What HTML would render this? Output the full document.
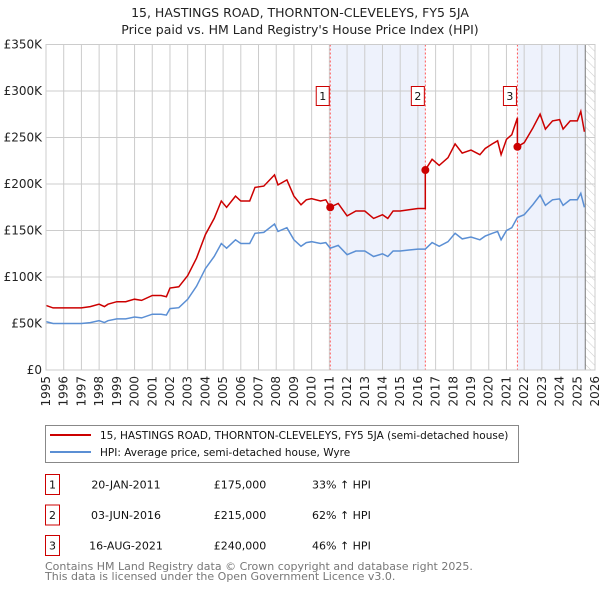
<!DOCTYPE html>
<html><head><meta charset="utf-8"><style>
body{margin:0;background:#fff;}
svg text{font-family:"DejaVu Sans","Liberation Sans",sans-serif;}
</style></head><body>
<svg id="chart" width="600" height="590" viewBox="0 0 600 590" xmlns="http://www.w3.org/2000/svg">
<defs><pattern id="hatch" width="6" height="6" patternUnits="userSpaceOnUse" patternTransform="rotate(-45)"><line x1="0" y1="0" x2="0" y2="6" stroke="#ccc" stroke-width="1"/></pattern></defs>
<text x="300" y="17" text-anchor="middle" font-size="12.5" fill="#222">15, HASTINGS ROAD, THORNTON-CLEVELEYS, FY5 5JA</text>
<text x="300" y="34" text-anchor="middle" font-size="12.5" fill="#222">Price paid vs. HM Land Registry's House Price Index (HPI)</text>
<g id="plot"></g>
<rect x="45.5" y="425.5" width="473" height="37" fill="#fff" stroke="#888"/>
<line x1="50" y1="435" x2="91" y2="435" stroke="#cc0000" stroke-width="2"/>
<text x="100" y="439" font-size="10.5" fill="#111">15, HASTINGS ROAD, THORNTON-CLEVELEYS, FY5 5JA (semi-detached house)</text>
<line x1="50" y1="452" x2="91" y2="452" stroke="#5b8fd4" stroke-width="2"/>
<text x="100" y="456" font-size="10.5" fill="#111">HPI: Average price, semi-detached house, Wyre</text>
<g id="table" font-size="11" fill="#111"></g>
<text x="45" y="570" font-size="11" fill="#777">Contains HM Land Registry data © Crown copyright and database right 2025.</text>
<text x="45" y="580" font-size="11" fill="#777">This data is licensed under the Open Government Licence v3.0.</text>
</svg>
<script>
const hpiYears=[1995,1995.4,1996,1996.5,1997,1997.5,1998,1998.3,1998.5,1999,1999.5,2000,2000.4,2001,2001.5,2001.8,2002,2002.5,2003,2003.5,2004,2004.5,2004.9,2005.2,2005.7,2006,2006.5,2006.8,2007.3,2007.9,2008.1,2008.6,2009,2009.4,2009.7,2010,2010.5,2010.8,2011.05,2011.5,2012,2012.5,2013,2013.5,2014,2014.3,2014.6,2015,2015.5,2016,2016.42,2016.8,2017.2,2017.7,2018.1,2018.5,2019,2019.5,2019.8,2020.2,2020.5,2020.7,2021,2021.3,2021.62,2022,2022.5,2022.9,2023.2,2023.6,2024,2024.2,2024.6,2025,2025.2,2025.4];
const hpiValues=[52,50,50,50,50,51,53,51,53,55,55,57,56,60,60,59,66,67,76,90,109,122,136,131,140,136,136,147,148,157,149,153,140,133,137,138,136,137,131,134,124,128,128,122,125,122,128,128,129,130,130,137,133,138,147,141,143,140,144,147,149,140,150,153,164,167,178,188,177,183,184,177,183,183,190,175];
const saleYears=[2011.05,2016.42,2021.62];
const salePrices=[175,215,240];
const saleLabels=["1","2","3"];
const saleDates=["20-JAN-2011","03-JUN-2016","16-AUG-2021"];
const salePriceText=["£175,000","£215,000","£240,000"];
const saleDiffs=["33% ↑ HPI","62% ↑ HPI","46% ↑ HPI"];
const yTicks=[0,50,100,150,200,250,300,350];
const yTickLabels=["£0","£50K","£100K","£150K","£200K","£250K","£300K","£350K"];
const xTicks=[1995,1996,1997,1998,1999,2000,2001,2002,2003,2004,2005,2006,2007,2008,2009,2010,2011,2012,2013,2014,2015,2016,2017,2018,2019,2020,2021,2022,2023,2024,2025,2026];

const NS="http://www.w3.org/2000/svg";
const L=46,R=595,T=44.5,B=370;
const X=y=>L+(y-1995)/31*(R-L);
const Y=v=>B-v/350*(B-T);
function mk(tag,attrs,parent){const e=document.createElementNS(NS,tag);for(const k in attrs)e.setAttribute(k,attrs[k]);parent.appendChild(e);return e;}
const g=document.getElementById('plot');
const endYear=2025.45;
let s1=mk('rect',{x:X(saleYears[0]),y:T,width:X(saleYears[1])-X(saleYears[0]),height:B-T,fill:'#eef2fc'},g);


let s2=mk('rect',{x:X(saleYears[2]),y:T,width:X(endYear)-X(saleYears[2]),height:B-T,fill:'#eef2fc'},g);


let ht=mk('rect',{x:X(endYear),y:T,width:R-X(endYear),height:B-T,fill:'url(#hatch)'},g);


xTicks.forEach(t=>{let l=mk('line',{x1:X(t),x2:X(t),y1:T,y2:B,stroke:'#ccc','stroke-width':1},g);


let tx=mk('text',{x:0,y:0,'font-size':12,fill:'#222','text-anchor':'end',transform:`translate(${X(t)+4},${B+6}) rotate(-90)`},g);tx.textContent=t;

});
yTicks.forEach((t,i)=>{let l=mk('line',{x1:L,x2:R,y1:Y(t),y2:Y(t),stroke:'#ccc','stroke-width':1},g);


let tx=mk('text',{x:L-4,y:Y(t)+4,'font-size':12,fill:'#222','text-anchor':'end'},g);tx.textContent=yTickLabels[i];

});
let vl=mk('line',{x1:X(endYear),x2:X(endYear),y1:T,y2:B,stroke:'#777','stroke-width':1},g);


saleYears.forEach((sy,i)=>{let l=mk('line',{x1:X(sy),x2:X(sy),y1:T,y2:B,stroke:'#ff5555','stroke-width':1,'stroke-dasharray':'2,2'},g);


let bx=mk('rect',{x:X(sy)-14,y:86.5,width:13,height:19,fill:'#fff',stroke:'#cc0000'},g);


let tx=mk('text',{x:X(sy)-7.5,y:100,'font-size':11,fill:'#111','text-anchor':'middle'},g);tx.textContent=saleLabels[i];

});
function interp(y){for(let i=0;i<hpiYears.length-1;i++){if(y<=hpiYears[i+1]){const f=(y-hpiYears[i])/(hpiYears[i+1]-hpiYears[i]);return hpiValues[i]+f*(hpiValues[i+1]-hpiValues[i]);}}return hpiValues[hpiValues.length-1];}
let hp=hpiYears.map((y,i)=>X(y).toFixed(1)+','+Y(hpiValues[i]).toFixed(1)).join(' ');
let hl=mk('polyline',{points:hp,fill:'none',stroke:'#5b8fd4','stroke-width':1.5},g);


function factor(y){let k=0;for(let i=0;i<saleYears.length;i++)if(y>=saleYears[i])k=i;return salePrices[k]/interp(saleYears[k]);}
let pts=[];
hpiYears.forEach((y,i)=>{saleYears.forEach((sy,j)=>{if(j>0&&sy>(hpiYears[i-1]||0)&&sy<=y){pts.push([sy,interp(sy)*salePrices[j-1]/interp(saleYears[j-1])]);pts.push([sy,salePrices[j]]);}});pts.push([y,hpiValues[i]*factor(y)]);});
let pl=mk('polyline',{points:pts.map(p=>X(p[0]).toFixed(1)+','+Y(p[1]).toFixed(1)).join(' '),fill:'none',stroke:'#cc0000','stroke-width':1.5},g);


saleYears.forEach((sy,i)=>{let c=mk('circle',{cx:X(sy),cy:Y(salePrices[i]),r:4,fill:'#cc0000'},g);

});
let fr=mk('rect',{x:L,y:T,width:R-L,height:B-T,fill:'none',stroke:'#ccc'},g);


const tb=document.getElementById('table');
saleLabels.forEach((lb,i)=>{const y=482+i*30.5;
let b=mk('rect',{x:45.5,y:y-7.5,width:14,height:20,fill:'none',stroke:'#cc0000'},tb);


const cells=[[52.5,lb,'middle'],[126,saleDates[i],'middle'],[240,salePriceText[i],'middle'],[312,saleDiffs[i],'start']];
cells.forEach((c,k)=>{let t=mk('text',{x:c[0],y:y+6.5,'text-anchor':c[2]},tb);t.textContent=c[1];

});});
</script>
</body></html>
